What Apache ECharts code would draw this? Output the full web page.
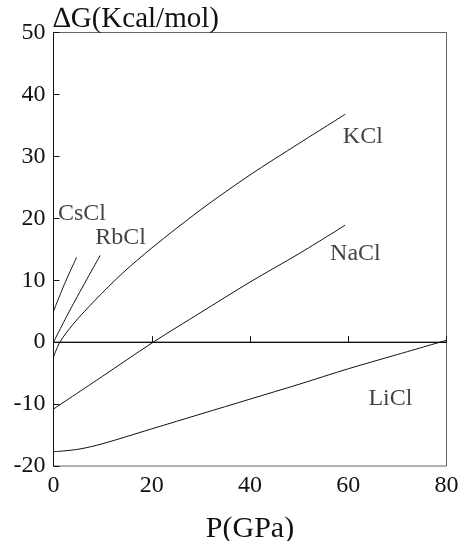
<!DOCTYPE html>
<html>
<head>
<meta charset="utf-8">
<script src="https://cdn.jsdelivr.net/npm/echarts@6/dist/echarts.min.js"></script>
<style>
  html, body { margin: 0; padding: 0; background: #fff; }
  #chart { width: 464px; height: 541px; }
</style>
</head>
<body>
<div id="chart"></div>
<script>
// values: [P (GPa), dG (kcal/mol)]
const csclPoints = [[0, 5.0], [2.3, 9.5], [4.7, 13.7]];
const rbclPoints = [[0, 0], [3.7, 5.7], [9.5, 14.0]];
const kclPoints = [
  [0, -2.4], [1.3, 0], [4, 2.9], [8.5, 6.8], [14, 11.1], [20, 15.2],
  [30, 21.4], [40, 27.0], [50, 32.1], [59.4, 36.8]
];
const naclPoints = [
  [0, -10.8], [10, -5.5], [20.3, 0], [30, 4.8], [40, 9.7], [50, 14.3], [59.4, 18.9]
];
const liclPoints = [
  [0, -17.7], [5, -17.3], [10, -16.4], [20, -14.0], [30, -11.6],
  [40, -9.2], [50, -6.8], [60, -4.3], [70, -2.0], [80, 0.3]
];
const zeroLine = [[0, 0], [80, 0]];

const saltNames = ["CsCl", "RbCl", "KCl", "NaCl", "LiCl"];
const labelSpots = [[0.9, 20.8], [8.5, 16.8], [58.9, 33.2], [56.3, 14.3], [64.1, -9.1]];

const xTicks = { min: 0, max: 80, interval: 20 };
const yTicks = { min: -20, max: 50, interval: 10 };

const chart = echarts.init(document.getElementById("chart"));
const serif = "Liberation Serif";
const ink = "#111";

function curve(points) {
  return {
    type: "line",
    data: points,
    smooth: 0.3,
    showSymbol: false,
    lineStyle: { color: ink, width: 1 },
    silent: true
  };
}

chart.setOption({
  animation: false,
  grid: {
    left: 53.5,
    right: 17.5,
    top: 32.5,
    bottom: 75,
    outerBoundsMode: "none",
    show: true,
    borderColor: "#666",
    borderWidth: 1
  },
  title: [
    {
      text: "\u2206G(Kcal/mol)",
      left: 48,
      top: 0,
      textStyle: { fontFamily: serif, fontSize: 29, fontWeight: "normal", color: ink }
    }
  ],
  xAxis: {
    type: "value",
    min: xTicks.min,
    max: xTicks.max,
    interval: xTicks.interval,
    name: "P(GPa)",
    nameLocation: "middle",
    nameGap: 48,
    nameTextStyle: { fontFamily: serif, fontSize: 30, color: ink },
    axisLine: { show: true, lineStyle: { color: ink, width: 1 } },
    axisTick: { show: true, inside: true, length: 6, lineStyle: { color: ink } },
    axisLabel: { fontFamily: serif, fontSize: 24, color: ink, margin: 8 },
    splitLine: { show: false }
  },
  yAxis: {
    type: "value",
    min: yTicks.min,
    max: yTicks.max,
    interval: yTicks.interval,
    axisLine: { show: true, lineStyle: { color: ink, width: 1 } },
    axisTick: { show: true, inside: true, length: 6, lineStyle: { color: ink } },
    axisLabel: { fontFamily: serif, fontSize: 24, color: ink, margin: 8 },
    splitLine: { show: false }
  },
  series: [
    curve(zeroLine),
    curve(csclPoints),
    curve(rbclPoints),
    curve(kclPoints),
    curve(naclPoints),
    curve(liclPoints),
    {
      type: "scatter",
      symbolSize: 0,
      silent: true,
      data: labelSpots.map((p, i) => ({ value: p, name: saltNames[i] })),
      label: {
        show: true,
        position: "right",
        distance: 0,
        formatter: "{b}",
        fontFamily: serif,
        fontSize: 24,
        color: ink
      }
    }
  ]
});
</script>
</body>
</html>
